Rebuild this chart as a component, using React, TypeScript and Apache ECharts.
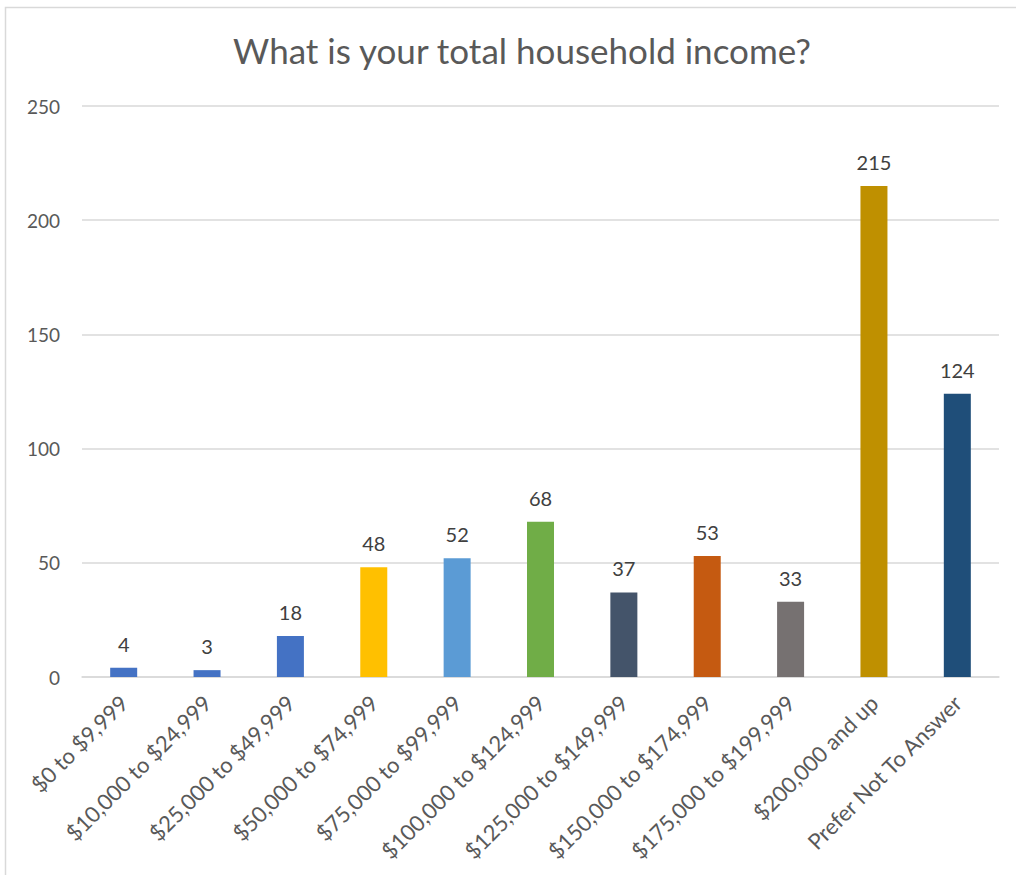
import React, { useEffect, useRef } from "react";
import * as echarts from "echarts";

const categories = [
  "$0 to $9,999",
  "$10,000 to $24,999",
  "$25,000 to $49,999",
  "$50,000 to $74,999",
  "$75,000 to $99,999",
  "$100,000 to $124,999",
  "$125,000 to $149,999",
  "$150,000 to $174,999",
  "$175,000 to $199,999",
  "$200,000 and up",
  "Prefer Not To Answer",
];
const values = [4, 3, 18, 48, 52, 68, 37, 53, 33, 215, 124];
const colors = [
  "#4472C4", "#4472C4", "#4472C4", "#FFC000", "#5B9BD5", "#70AD47",
  "#44546A", "#C55A11", "#767171", "#BF9000", "#1F4E79",
];
const title = "What is your total household income?";

const FONT = "Lato, 'Open Sans', sans-serif";

export default function App() {
  const ref = useRef<HTMLDivElement>(null);
  useEffect(() => {
    if (!ref.current) return;
    const chart = echarts.init(ref.current, undefined, { renderer: "svg" });
    chart.setOption({
      animation: false,
      backgroundColor: "#ffffff",
      title: {
        text: title,
        left: 517,
        textAlign: "center",
        top: 27,
        textStyle: { fontFamily: FONT, fontSize: 35, fontWeight: "normal", color: "#595959" },
      },
      graphic: [
        {
          type: "rect",
          shape: { x: 5.5, y: 7.5, width: 1100, height: 1000 },
          style: { fill: "none", stroke: "#d9d9d9", lineWidth: 1.5 },
          silent: true,
        },
      ],
      grid: { left: 82, right: 17, top: 106, bottom: 198, containLabel: false },
      xAxis: {
        type: "category",
        data: categories,
        axisLine: { lineStyle: { color: "#d9d9d9", width: 1.5 } },
        axisTick: { show: false },
        axisLabel: {
          rotate: 45,
          interval: 0,
          margin: 22,
          fontFamily: FONT,
          fontSize: 22,
          color: "#595959",
        },
      },
      yAxis: {
        type: "value",
        min: 0,
        max: 250,
        interval: 50,
        axisLine: { show: false },
        axisTick: { show: false },
        splitLine: { lineStyle: { color: "#d9d9d9", width: 1.5 } },
        axisLabel: { margin: 22, fontFamily: FONT, fontSize: 19, color: "#595959" },
      },
      series: [
        {
          type: "bar",
          data: values.map((v, i) => ({ value: v, itemStyle: { color: colors[i] } })),
          barWidth: 27,
          label: {
            show: true,
            position: "top",
            distance: 14,
            fontFamily: FONT,
            fontSize: 20,
            color: "#404040",
          },
        },
      ],
    });
    return () => chart.dispose();
  }, []);
  return (
    <div
      ref={ref}
      style={{ position: "absolute", left: 0, top: 0, width: 1016, height: 875 }}
    />
  );
}
